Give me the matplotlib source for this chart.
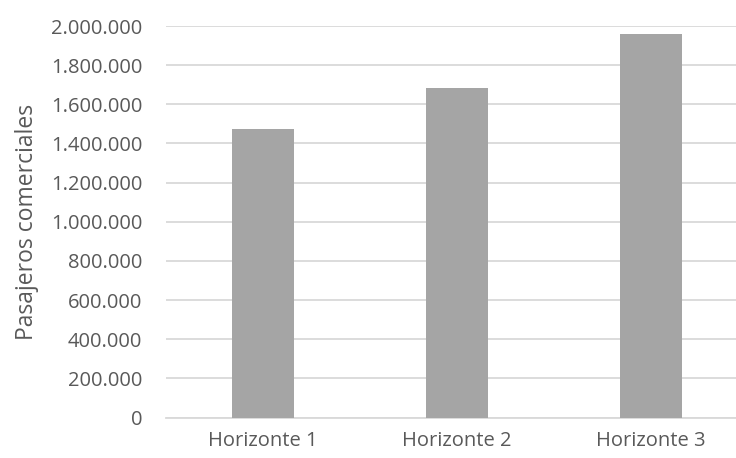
import matplotlib
matplotlib.use("Agg")
import matplotlib.pyplot as plt
from matplotlib.ticker import FuncFormatter

# Data
horizontes = ["Horizonte 1", "Horizonte 2", "Horizonte 3"]
pasajeros = [1472000, 1682000, 1958000]
y_ticks = list(range(0, 2000001, 200000))

plt.rcParams['font.family'] = ['Open Sans', 'DejaVu Sans']

fig = plt.figure(figsize=(7.36, 4.58), dpi=100)
# plot area runs past the right edge, as in the reference
ax = fig.add_axes([166 / 736, 1 - 417.5 / 458, 582 / 736, 391.5 / 458])

x = range(len(horizontes))
ax.bar(x, pasajeros, width=0.32, color="#A5A5A5", zorder=3)

ax.set_xlim(-0.5, len(horizontes) - 0.5)
ax.set_ylim(0, 2000000)
ax.set_yticks(y_ticks)
ax.yaxis.set_major_formatter(FuncFormatter(lambda v, p: f"{int(v):,}".replace(",", ".")))
ax.set_xticks(list(x))
ax.set_xticklabels(horizontes)

ax.grid(axis="y", color="#D9D9D9", linewidth=1.3, zorder=0)
for side in ["top", "right", "left"]:
    ax.spines[side].set_visible(False)
ax.spines["bottom"].set_color("#D9D9D9")
ax.spines["bottom"].set_linewidth(1.3)

ax.tick_params(axis="y", length=0, pad=17, labelsize=14.5, labelcolor="#595959")
ax.tick_params(axis="x", length=0, pad=10, labelsize=14.5, labelcolor="#595959")

ax.set_ylabel("Pasajeros comerciales", fontsize=16.5, color="#595959")
ax.yaxis.set_label_coords(-127 / 582, 0.5)

fig.savefig("out.png", dpi=100)
